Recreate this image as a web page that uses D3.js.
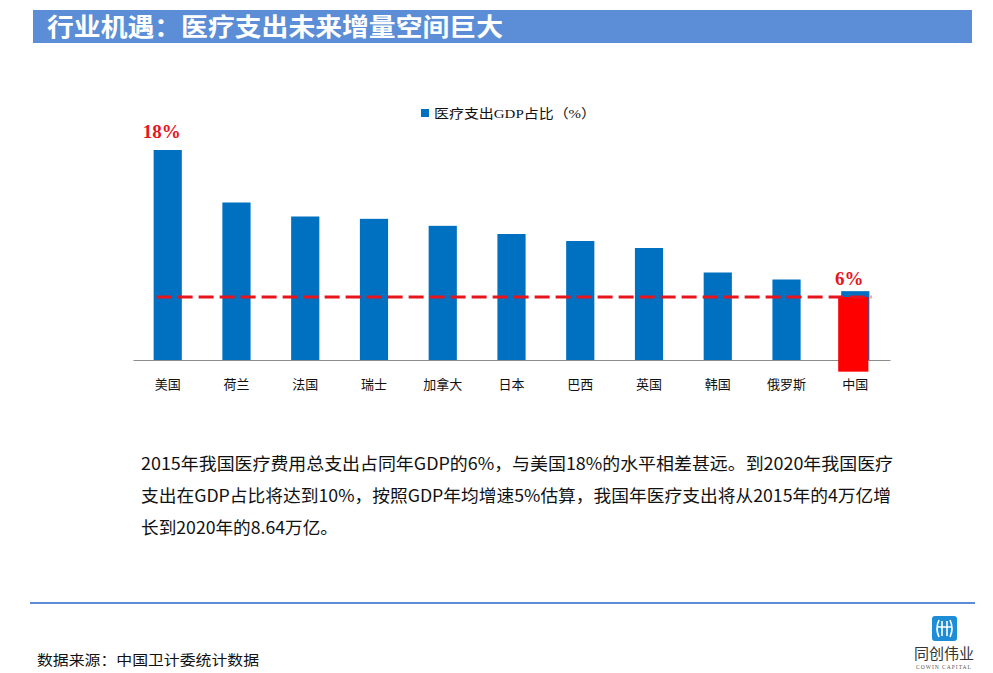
<!DOCTYPE html>
<html><head><meta charset="utf-8">
<script src="https://cdn.jsdelivr.net/npm/d3@7"></script>
<style>
body{margin:0;background:#fff;}
svg{display:block;}
</style></head>
<body>
<svg id="c" width="993" height="673"></svg>
<script>
const categories = ["美国","荷兰","法国","瑞士","加拿大","日本","巴西","英国","韩国","俄罗斯","中国"];
const values = [18.0, 13.5, 12.3, 12.1, 11.5, 10.8, 10.2, 9.6, 7.5, 6.9, 5.9];
const seriesName = "医疗支出GDP占比（%）";
const referenceLevel = 5.4;         // dashed line level
const highlightRange = [5.4, -1.0]; // red highlight on 中国
const highlightCategory = "中国";
const callouts = [{cat:"美国", text:"18%", level:18.0}, {cat:"中国", text:"6%", level:5.4}];
const title = "行业机遇：医疗支出未来增量空间巨大";
const paragraph = [
  "2015年我国医疗费用总支出占同年GDP的6%，与美国18%的水平相差甚远。到2020年我国医疗",
  "支出在GDP占比将达到10%，按照GDP年均增速5%估算，我国年医疗支出将从2015年的4万亿增",
  "长到2020年的8.64万亿。"
];
const source = "数据来源：中国卫计委统计数据";

const svg = d3.select("#c");
const sans = "'Noto Sans CJK SC','Noto Sans',sans-serif";
const serif = "'Liberation Serif','Noto Sans CJK SC',serif";

// title bar
svg.append("rect").attr("x",33).attr("y",10).attr("width",939).attr("height",33).attr("fill","#5B8ED6");
svg.append("text").attr("x",47).attr("y",36).attr("fill","#fff").attr("font-family",sans)
  .attr("font-weight","bold").attr("font-size",25).attr("textLength",456).attr("lengthAdjust","spacingAndGlyphs").text(title);

// chart
const x = d3.scaleBand().domain(categories).range([133, 890]).paddingInner(0.59).paddingOuter(0.3);
const y = d3.scaleLinear().domain([0, 18]).range([360, 150]);
const bw = x.bandwidth();

svg.append("g").selectAll("rect").data(categories).join("rect")
  .attr("x", d => x(d)).attr("width", bw)
  .attr("y", (d,i) => y(values[i])).attr("height", (d,i) => y(0) - y(values[i]))
  .attr("fill", "#0070C0");

// axis
const xAxis = d3.axisBottom(x).tickSize(0).tickPadding(20);
const ag = svg.append("g").attr("transform",`translate(0,${y(0)})`).call(xAxis);
ag.select(".domain").attr("stroke","#8c8c8c").attr("stroke-width",1.2);
ag.selectAll("text").attr("font-family",sans).attr("font-size",13).attr("fill","#111");

// highlight red bar
svg.append("rect").attr("x", x(highlightCategory) - 3).attr("width", bw + 2)
  .attr("y", y(highlightRange[0])).attr("height", y(highlightRange[1]) - y(highlightRange[0]))
  .attr("fill", "#FF0000");

// dashed reference line
svg.append("line").attr("x1", x(categories[0]) + 3).attr("x2", x(highlightCategory) + bw + 2)
  .attr("y1", y(referenceLevel)).attr("y2", y(referenceLevel))
  .attr("stroke","#E8141B").attr("stroke-width",3).attr("stroke-dasharray","15,6");

// callouts
callouts.forEach(c => {
  svg.append("text").attr("x", x(c.cat) + bw/2 - 6).attr("y", y(c.level) - 12)
    .attr("text-anchor","middle").attr("fill","#E8141B").attr("font-family",serif)
    .attr("font-weight","bold").attr("font-size",19).text(c.text);
});

// legend
svg.append("rect").attr("x",421).attr("y",109).attr("width",8).attr("height",8).attr("fill","#0070C0");
svg.append("text").attr("x",434).attr("y",118).attr("font-family",serif).attr("font-size",13)
  .attr("fill","#111").attr("textLength",162).attr("lengthAdjust","spacingAndGlyphs").text(seriesName);

// paragraph
const widths = [752, 750, 197];
paragraph.forEach((t,i) => {
  svg.append("text").attr("x",141).attr("y",470 + i*32).attr("font-family",sans).attr("font-size",17)
    .attr("fill","#111").attr("textLength",widths[i]).attr("lengthAdjust","spacingAndGlyphs").text(t);
});

// footer line
svg.append("line").attr("x1",30).attr("x2",975).attr("y1",603).attr("y2",603).attr("stroke","#5B8ED6").attr("stroke-width",2);
svg.append("text").attr("x",37).attr("y",665).attr("font-family",sans).attr("font-size",14).attr("fill","#111")
  .attr("textLength",222).attr("lengthAdjust","spacingAndGlyphs").text(source);

// logo
const lg = svg.append("g");
lg.append("rect").attr("x",932).attr("y",616).attr("width",25).attr("height",25).attr("rx",3).attr("fill","#1F8CD8");
lg.append("path").attr("d","M939,620 Q935,628.5 939,637 M950,620 Q954,628.5 950,637 M942,621 V636 M947,621 V636 M938,627 H951")
  .attr("stroke","#fff").attr("stroke-width",1.6).attr("fill","none");
lg.append("text").attr("x",944).attr("y",659).attr("text-anchor","middle").attr("font-family",sans).attr("font-size",15)
  .attr("fill","#333").text("同创伟业");
lg.append("text").attr("x",944).attr("y",669).attr("text-anchor","middle").attr("font-family",serif).attr("font-size",5.5)
  .attr("fill","#555").attr("letter-spacing",1).text("COWIN CAPITAL");
</script>
</body></html>
